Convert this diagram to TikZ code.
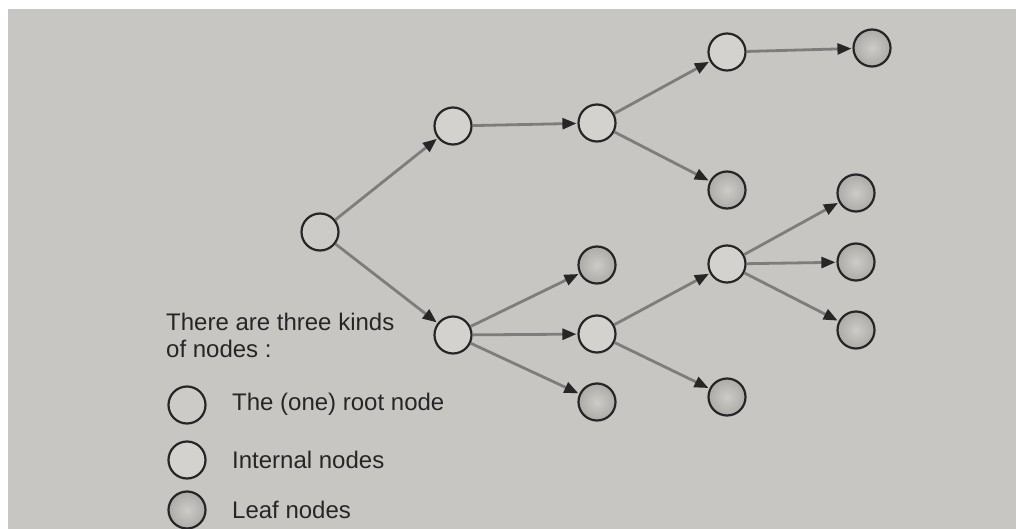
\documentclass[tikz,border=0pt]{standalone}
\usepackage{fontspec}
\setmainfont{Liberation Sans}
\usetikzlibrary{arrows.meta}

\definecolor{paper}{RGB}{199,198,195}
\definecolor{ink}{RGB}{38,38,38}
\definecolor{edgegray}{RGB}{125,125,123}
\definecolor{rootfill}{RGB}{204,203,200}
\definecolor{innerfill}{RGB}{211,210,207}
\definecolor{leafin}{RGB}{204,203,200}
\definecolor{leafout}{RGB}{172,171,168}

\tikzset{
  tnode/.style={circle, minimum size=37pt, inner sep=0pt, draw=ink, line width=2.2pt},
  rootnode/.style={tnode, fill=rootfill},
  innernode/.style={tnode, fill=innerfill},
  leafnode/.style={tnode, inner color=leafin, outer color=leafout},
  link/.style={draw=edgegray, line width=2.8pt, shorten >=1pt,
    -{Triangle[length=14pt, width=11pt, fill=ink, color=ink]}},
  label/.style={font=\fontsize{24}{27}\selectfont, text=ink, anchor=west, inner sep=0pt}
}

\begin{document}
\begin{tikzpicture}[x=1pt, y=-1pt]
  % page and photographed sheet
  \fill[white] (0,0) rectangle (1016,529);
  \fill[paper] (8,9) rectangle (1016,529);
  \useasboundingbox (0,0) rectangle (1016,529);

  % tree nodes
  \node[rootnode]  (r)  at (320,232) {};
  \node[innernode] (a)  at (453,126) {};
  \node[innernode] (b)  at (453,335) {};
  \node[innernode] (c)  at (597,123) {};
  \node[innernode] (d)  at (727,52)  {};
  \node[leafnode]  (l1) at (872,48)  {};
  \node[leafnode]  (l2) at (727,190) {};
  \node[leafnode]  (l3) at (597,265) {};
  \node[innernode] (e)  at (597,334) {};
  \node[leafnode]  (l4) at (597,402) {};
  \node[innernode] (f)  at (727,264) {};
  \node[leafnode]  (l5) at (856,193) {};
  \node[leafnode]  (l6) at (856,262) {};
  \node[leafnode]  (l7) at (856,330) {};
  \node[leafnode]  (l8) at (727,397) {};

  % edges
  \draw[link] (r) -- (a);
  \draw[link] (r) -- (b);
  \draw[link] (a) -- (c);
  \draw[link] (c) -- (d);
  \draw[link] (d) -- (l1);
  \draw[link] (c) -- (l2);
  \draw[link] (b) -- (l3);
  \draw[link] (b) -- (e);
  \draw[link] (b) -- (l4);
  \draw[link] (e) -- (f);
  \draw[link] (e) -- (l8);
  \draw[link] (f) -- (l5);
  \draw[link] (f) -- (l6);
  \draw[link] (f) -- (l7);

  % legend
  \node[label, align=left, anchor=north west] (title) at (166,313)
    {There are three kinds\\of nodes :};
  \node[rootnode]  (kr) at (187,405) {};
  \node[innernode] (ki) at (187,460) {};
  \node[leafnode]  (kl) at (187,510) {};
  \node[label] (tr) at (232,404) {The (one) root node};
  \node[label] (ti) at (232,460) {Internal nodes};
  \node[label] (tl) at (232,510) {Leaf nodes};
\end{tikzpicture}
\end{document}
